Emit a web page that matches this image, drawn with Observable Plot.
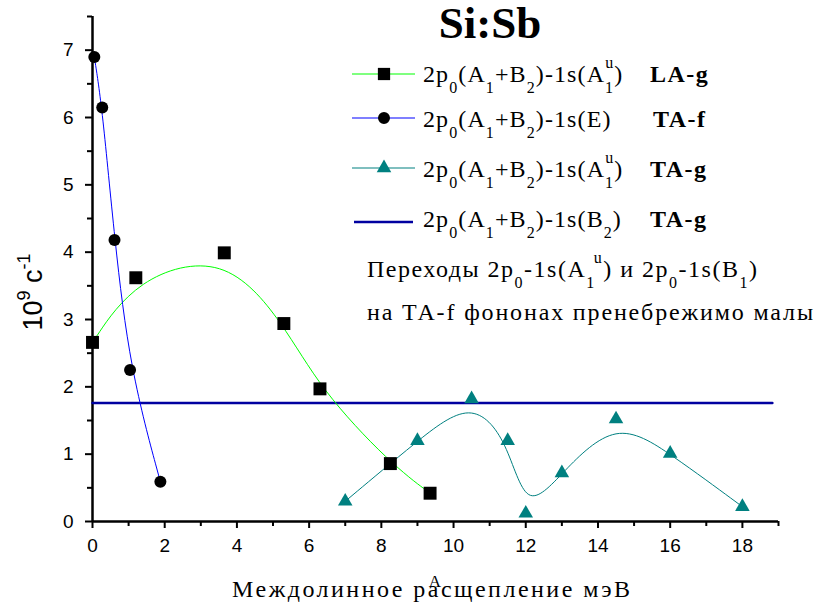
<!DOCTYPE html>
<html><head><meta charset="utf-8">
<script src="https://cdn.jsdelivr.net/npm/d3@7"></script>
<script src="https://cdn.jsdelivr.net/npm/@observablehq/plot@0.6"></script>
<style>
body{margin:0;background:#fff}
#wrap{position:relative;width:820px;height:611px;overflow:hidden}
#ov{position:absolute;left:0;top:0;pointer-events:none}
</style>
</head><body><div id="wrap"><div id="chart"></div>
<svg id="ov" width="820" height="611"></svg></div>
<script>
// LA-g: 2p0(A1+B2)-1s(A1u) squares
const laX = [0, 1.2, 3.65, 5.3, 6.3, 8.25, 9.35];
const laY = [2.66, 3.62, 3.99, 2.94, 1.97, 0.86, 0.42];
// TA-f: 2p0(A1+B2)-1s(E) circles
const eX = [0.05, 0.27, 0.61, 1.04, 1.88];
const eY = [6.9, 6.15, 4.18, 2.25, 0.59];
// TA-g: 2p0(A1+B2)-1s(A1u) triangles
const taX = [7, 9, 10.5, 11.5, 12, 13, 14.5, 16, 18];
const taY = [0.3, 1.2, 1.82, 1.2, 0.12, 0.72, 1.52, 1.01, 0.22];
// TA-g: 2p0(A1+B2)-1s(B2) constant level
const b2X = [0, 18.83];
const b2Y = [1.76, 1.76];
// ticks
const xMajor = [0, 2, 4, 6, 8, 10, 12, 14, 16, 18];
const xMinor = [1, 3, 5, 7, 9, 11, 13, 15, 17, 19];
const yMajor = [0, 1, 2, 3, 4, 5, 6, 7];
const yMinor = [0.5, 1.5, 2.5, 3.5, 4.5, 5.5, 6.5, 7.5];

const la = laX.map((x, i) => ({x, y: laY[i]}));
const e = eX.map((x, i) => ({x, y: eY[i]}));
const ta = taX.map((x, i) => ({x, y: taY[i]}));
const b2 = b2X.map((x, i) => ({x, y: b2Y[i]}));

const GREEN = "#00ff00", BLUE = "#0000ff", TEAL = "#008080", NAVY = "#0000a0";
const SANS = "Liberation Sans";
const SERIF = "Liberation Serif";

const plot = Plot.plot({
  width: 820, height: 611,
  marginLeft: 92, marginRight: 42, marginTop: 16, marginBottom: 90,
  x: {domain: [0, 19]},
  y: {domain: [0, 7.5]},
  style: {fontFamily: SANS, background: "white", color: "black", overflow: "visible"},
  marks: [
    Plot.axisY(yMajor, {tickSize: 7, tickPadding: 12, fontSize: 19, label: null, strokeWidth: 2, tickFormat: d => String(d)}),
    Plot.axisY(yMinor, {tickSize: 5, tickFormat: () => "", label: null, strokeWidth: 2}),
    Plot.axisX(xMajor, {tickSize: 7, tickPadding: 10, fontSize: 19, label: null, strokeWidth: 2, tickFormat: d => String(d)}),
    Plot.axisX(xMinor, {tickSize: 5, tickFormat: () => "", label: null, strokeWidth: 2}),
    Plot.ruleX([0], {y1: 0, y2: 7.5, strokeWidth: 2.5}),
    Plot.ruleY([0], {x1: 0, x2: 19, strokeWidth: 2.5}),
    Plot.line(b2, {x: "x", y: "y", stroke: NAVY, strokeWidth: 2.5}),
    Plot.line(la, {x: "x", y: "y", curve: "basis", stroke: GREEN, strokeWidth: 1}),
    Plot.line(e, {x: "x", y: "y", curve: "basis", stroke: BLUE, strokeWidth: 1}),
    Plot.line(ta, {x: "x", y: "y", curve: "basis", stroke: TEAL, strokeWidth: 1}),
    Plot.dot(la, {x: "x", y: "y", symbol: "square", r: 7.3, fill: "black"}),
    Plot.dot(e, {x: "x", y: "y", symbol: "circle", r: 6, fill: "black"}),
    Plot.dot(ta, {x: "x", y: "y", symbol: "triangle", r: 5.4, fill: TEAL})
  ]
});
document.getElementById("chart").appendChild(plot);

const g = d3.select("#ov");

// SVG label; parts = [[text, kind, dx]], kind: "", "sub", "sup"
function lbl(x, y, parts, o = {}) {
  const size = o.size || 24, small = o.small || 16;
  const subOff = 11, supOff = -14;
  const t = g.append("text").attr("x", x).attr("y", y)
    .attr("font-family", o.family || SERIF).attr("font-size", size)
    .attr("font-weight", o.weight || "normal").attr("text-anchor", o.anchor || "start")
    .attr("fill", "black");
  if (o.ls) t.attr("letter-spacing", o.ls);
  if (o.len) t.attr("textLength", o.len).attr("lengthAdjust", "spacing");
  let cur = 0;
  for (const [s, kind, dx] of parts) {
    const target = kind === "sub" ? subOff : kind === "sup" ? supOff : 0;
    const ts = t.append("tspan").attr("dy", target - cur).text(s)
      .attr("font-size", kind ? small : size);
    if (dx) ts.attr("dx", dx);
    cur = target;
  }
  return t;
}

// Title
lbl(490, 38, [["Si:Sb"]], {size: 45, weight: "bold", anchor: "middle"});

// Legend
const base = [["2p"], ["0", "sub"], ["(A"], ["1", "sub"], ["+B"], ["2", "sub"], [")-1s("]];
const rows = [
  {ly: 74, ty: 82, color: GREEN, sym: "square", fill: "black",
   parts: [...base, ["A"], ["1", "sub"], ["u", "sup", -9], [")"]], tag: "LA-g", tx: 650},
  {ly: 118, ty: 127, color: BLUE, sym: "circle", fill: "black",
   parts: [...base, ["E)"]], tag: "TA-f", tx: 653},
  {ly: 168, ty: 177, color: TEAL, sym: "triangle", fill: TEAL,
   parts: [...base, ["A"], ["1", "sub"], ["u", "sup", -9], [")"]], tag: "TA-g", tx: 650},
  {ly: 222, ty: 227, color: NAVY, sym: null, width: 2.5,
   parts: [...base, ["B"], ["2", "sub"], [")"]], tag: "TA-g", tx: 650}
];
for (const r of rows) {
  g.append("line").attr("x1", r.sym ? 352 : 354).attr("x2", r.sym ? 415 : 413)
    .attr("y1", r.ly).attr("y2", r.ly).attr("stroke", r.color).attr("stroke-width", r.width || 1.2);
  if (r.sym) {
    const sizes = {square: 150, circle: 113, triangle: 92};
    const sym = {square: d3.symbolSquare, circle: d3.symbolCircle, triangle: d3.symbolTriangle}[r.sym];
    g.append("path").attr("transform", `translate(384,${r.ly})`)
      .attr("d", d3.symbol(sym, sizes[r.sym])()).attr("fill", r.fill);
  }
  lbl(423, r.ty, r.parts, {ls: 1.1});
  lbl(r.tx, r.ty, [[r.tag]], {weight: "bold", ls: 1.5});
}

// Annotation
lbl(367, 277, [["Переходы 2p"], ["0", "sub"], ["-1s(A"], ["1", "sub"], ["u", "sup", -2], [") и 2p"],
  ["0", "sub"], ["-1s(B"], ["1", "sub"], [")"]], {ls: 1.5});
lbl(367, 320, [["на ТА-f фононах пренебрежимо малы"]], {len: 446});

// X label
lbl(232, 597, [["Междолинное расщепление мэВ"]], {len: 398});
lbl(435, 587, [["A"]], {size: 17, anchor: "middle"});

// Y label (sans)
const yl = g.append("text").attr("transform", "translate(42,292) rotate(-90)")
  .attr("text-anchor", "middle").attr("font-family", SANS).attr("font-size", 27).attr("fill", "black");
yl.append("tspan").text("10");
yl.append("tspan").attr("dy", -12).attr("font-size", 18).text("9");
yl.append("tspan").attr("dy", 12).text(" с");
yl.append("tspan").attr("dy", -12).attr("font-size", 18).text("-1");
</script>
</body></html>
